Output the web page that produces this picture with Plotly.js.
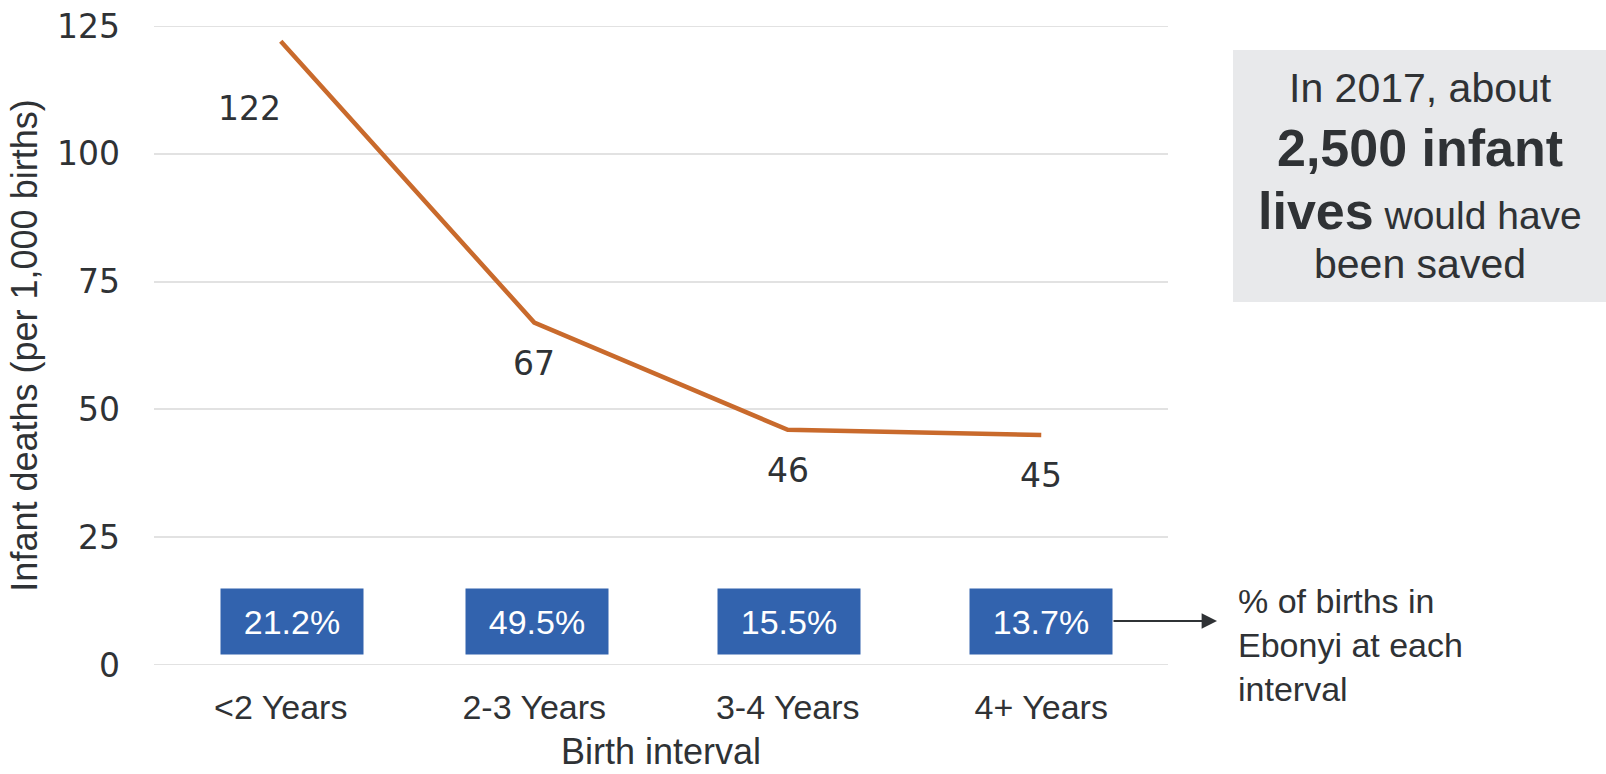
<!DOCTYPE html>
<html>
<head>
<meta charset="utf-8">
<script src="https://cdn.plot.ly/plotly-3.0.1.min.js"></script>
<style>html,body{margin:0;padding:0;background:#fff;}#chart{width:1606px;height:774px;}</style>
</head>
<body>
<div id="chart"></div>
<script>
const categories = ['<2 Years', '2-3 Years', '3-4 Years', '4+ Years'];
const infantDeaths = [122, 67, 46, 45];
const birthShares = ['21.2%', '49.5%', '15.5%', '13.7%'];
const yTickVals = [0, 25, 50, 75, 100, 125];
const xTitle = 'Birth interval';
const yTitle = 'Infant deaths (per 1,000 births)';
const calloutLines = ['In 2017, about', '<b>2,500 infant</b>', '<span style="font-size:52px"><b>lives</b></span> would have', 'been saved'];
const shareNote = '% of births in<br>Ebonyi at each<br>interval';

const W = 1606, H = 774;
const L = 154, R = 1168, T = 26, B = 665;
const px = x => (x - L) / (R - L);
const py = y => (B - y) / (B - T);
const FONT = 'Liberation Sans, Arial, sans-serif';
const NUMFONT = 'DejaVu Sans, Liberation Sans, sans-serif';
const TXT = '#2f3235';
const GRID = '#e2e2e2';

const annotations = [];
// data labels
const lblShiftX = [-31, 0, 0, 0];
const lblShiftY = [-67, -41, -41, -41];
infantDeaths.forEach((v, i) => {
  annotations.push({x: categories[i], y: v, xref: 'x', yref: 'y', text: String(v), showarrow: false,
    xshift: lblShiftX[i], yshift: lblShiftY[i], font: {family: NUMFONT, size: 33, color: TXT}});
});
// share boxes
const boxShift = [11, 3, 1, 0];
birthShares.forEach((s, i) => {
  annotations.push({x: categories[i], y: 8.5, xref: 'x', yref: 'y', text: s, showarrow: false,
    xshift: boxShift[i], width: 142, height: 65, borderpad: 0, bgcolor: '#3263ae',
    font: {family: FONT, size: 34, color: '#ffffff'}, valign: 'middle', align: 'center'});
});
// arrow
annotations.push({x: px(1217), y: py(621), xref: 'paper', yref: 'paper', ax: -105, ay: 0,
  axref: 'pixel', ayref: 'pixel', showarrow: true, arrowhead: 2, arrowsize: 1.4, arrowwidth: 2.2,
  arrowcolor: '#2f3235', text: ''});
// note
annotations.push({x: px(1236), y: py(645), xref: 'paper', yref: 'paper', xanchor: 'left', yanchor: 'middle',
  align: 'left', showarrow: false, text: shareNote, font: {family: FONT, size: 34, color: TXT}});
// callout text
const calloutY = [88, 148, 211, 264];
const calloutSize = [41, 52, 39, 41];
calloutLines.forEach((t, i) => {
  annotations.push({x: px(1420), y: py(calloutY[i]), xref: 'paper', yref: 'paper', xanchor: 'center', yanchor: 'middle',
    showarrow: false, text: t, font: {family: FONT, size: calloutSize[i], color: TXT}});
});
// x-axis title (annotation so it can sit low, like the reference)
annotations.push({x: 0.5, y: py(774), xref: 'paper', yref: 'paper', xanchor: 'center', yanchor: 'bottom',
  showarrow: false, text: xTitle, font: {family: FONT, size: 36, color: TXT}});

const trace = {
  type: 'scatter', mode: 'lines', x: categories, y: infantDeaths,
  line: {color: '#c96a2c', width: 4.5}, hoverinfo: 'skip', showlegend: false, cliponaxis: false
};

const shapes = [{type: 'rect', xref: 'paper', yref: 'paper', x0: px(1233), x1: px(1610), y0: py(302), y1: py(50),
  fillcolor: '#e8e9eb', line: {width: 0}, layer: 'below'}];
// edge gridlines (Plotly omits grid lines lying on the plot border)
[yTickVals[0], yTickVals[yTickVals.length - 1]].forEach(v => {
  shapes.push({type: 'line', xref: 'paper', yref: 'y', x0: 0, x1: 1, y0: v, y1: v,
    line: {color: GRID, width: 2}, layer: 'below'});
});

const layout = {
  width: W, height: H,
  margin: {l: L, r: W - R, t: T, b: H - B, pad: 0},
  paper_bgcolor: '#ffffff', plot_bgcolor: '#ffffff',
  font: {family: FONT, color: TXT},
  xaxis: {
    type: 'category', range: [-0.5, 3.5], showgrid: false, zeroline: false, showline: false,
    ticks: '', tickfont: {family: FONT, size: 34, color: TXT}, ticklabelstandoff: 19,
    title: {text: ''}
  },
  yaxis: {
    range: [0, 125], tickvals: yTickVals, showgrid: true, gridcolor: GRID, gridwidth: 2,
    zeroline: false, showline: false, ticks: '', ticklabelstandoff: 33,
    tickfont: {family: NUMFONT, size: 33, color: TXT},
    title: {text: yTitle, font: {family: FONT, size: 36, color: TXT}, standoff: 8}
  },
  shapes: shapes,
  annotations: annotations
};

Plotly.newPlot('chart', [trace], layout, {staticPlot: true, displayModeBar: false});
</script>
</body>
</html>
